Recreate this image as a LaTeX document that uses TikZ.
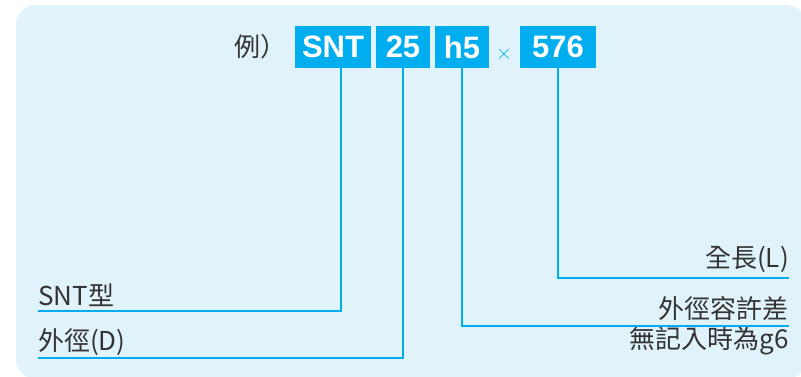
\documentclass[tikz,border=0pt]{standalone}
\usepackage{fontspec}
\setmainfont{Noto Sans CJK TC}
\newfontfamily\codefont{Liberation Sans}
\usetikzlibrary{positioning}
\definecolor{bgblue}{HTML}{E0F3FB}
\definecolor{codeblue}{HTML}{00AEEF}
\definecolor{textgray}{HTML}{333333}

\begin{document}
\begin{tikzpicture}[x=1pt,y=-1pt,
  codebox/.style={fill=codeblue, text=white, inner sep=0pt, minimum height=42pt,
    font=\codefont\bfseries\fontsize{31}{34}\selectfont},
  lead/.style={draw=codeblue, line width=2pt},
  lbl/.style={text=textgray, inner sep=0pt, font=\fontsize{26}{30}\selectfont}]

\useasboundingbox (0,0) rectangle (801,376);
\fill[bgblue, rounded corners=20pt] (16,5) rectangle (806,379);

% code boxes
\node[lbl, anchor=base west] (ex) at (234,56) {例）};
\node[codebox, minimum width=76pt] (snt) at (333,47) {SNT};
\node[codebox, minimum width=54pt] (dia) at (403,47) {25};
\node[codebox, minimum width=54pt] (tol) at (462,47) {h5};
\node[text=codeblue, inner sep=0pt, font=\fontsize{21}{22}\selectfont] (times) at (504,54) {$\times$};
\node[codebox, minimum width=76pt] (len) at (558,47) {576};

% labels
\node[lbl, anchor=base west] (typ) at (38,305) {SNT型};
\node[lbl, anchor=base west] (od) at (38,350) {外徑(D)};
\node[lbl, anchor=base east] (full) at (789,267) {全長(L)};
\node[lbl, anchor=base east] (odt) at (789,318) {外徑容許差};
\node[lbl, anchor=base east] (dflt) at (789,348) {無記入時為g6};

\coordinate (typend) at (38,311);
\coordinate (odend) at (38,358);
\coordinate (fullend) at (789,278);
\coordinate (odtend) at (789,326);

\draw[lead] ([xshift=8pt]snt.south) |- (typend);
\draw[lead] (dia.south) |- (odend);
\draw[lead] (tol.south) |- (odtend);
\draw[lead] (len.south) |- (fullend);
\end{tikzpicture}
\end{document}
